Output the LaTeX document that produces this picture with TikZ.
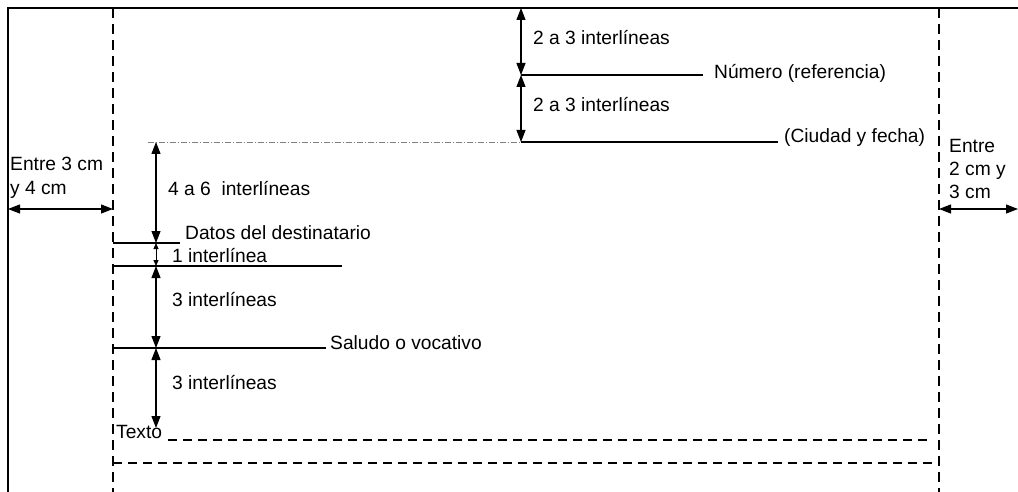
\documentclass[tikz,border=0pt]{standalone}
\usepackage{fontspec}
\setmainfont{Liberation Sans}
\usetikzlibrary{arrows.meta}
\begin{document}
\begin{tikzpicture}[x=1pt,y=-1pt,
  lbl/.style={anchor=base west,inner sep=0pt,font=\fontsize{19.2}{23}\selectfont},
  dim/.style={line width=1.1pt,{Triangle[length=12pt,width=9pt]}-{Triangle[length=12pt,width=9pt]}},
  rule/.style={line width=1.2pt},
  margin/.style={line width=1.2pt,dash pattern=on 10pt off 6pt},
  txtline/.style={line width=1.1pt,dash pattern=on 9pt off 6pt},
  dashdot/.style={line width=0.7pt,gray,dash pattern=on 6pt off 2pt on 1pt off 2pt}]
\useasboundingbox (0,0) rectangle (1018,492);
% frame
\draw[line width=1.5pt] (8,492) -- (8,8) -- (1018,8);
% margins
\coordinate (mlT) at (113,8); \coordinate (mlB) at (113,492);
\coordinate (mrT) at (939,8); \coordinate (mrB) at (939,492);
\draw[margin] (mlT) -- (mlB);
\draw[margin] (mrT) -- (mrB);
% top dimension
\coordinate (top) at (521,8);
\coordinate (num) at (521,75);
\coordinate (numE) at (703,75);
\coordinate (ciu) at (521,142);
\coordinate (ciuE) at (778,142);
\coordinate (dd) at (148,142);
\draw[rule] (num) -- (numE);
\draw[rule] (ciu) -- (ciuE);
\draw[dashdot] (dd) -- (ciu);
\draw[dim] (top) -- (num);
\draw[dim] (num) -- (ciu);
\node[lbl] (t1) at (533,45) {2 a 3 interlíneas};
\node[lbl] (t2) at (533,112) {2 a 3 interlíneas};
\node[lbl] (tn) at (714,79) {Número (referencia)};
\node[lbl] (tc) at (784,143) {(Ciudad y fecha)};
% left side
\coordinate (a0) at (156,142);
\coordinate (a1) at (156,243);
\coordinate (a2) at (156,266);
\coordinate (a3) at (156,348);
\coordinate (a4) at (156,428);
\coordinate (l1s) at (113,243); \coordinate (l1e) at (180,243);
\coordinate (l2s) at (113,266); \coordinate (l2e) at (342,266);
\coordinate (l3s) at (113,348); \coordinate (l3e) at (326,348);
\draw[rule] (l1s) -- (l1e);
\draw[rule] (l2s) -- (l2e);
\draw[rule] (l3s) -- (l3e);
\draw[dim] (a0) -- (a1);
\draw[line width=0.8pt,{Triangle[length=6pt,width=5pt]}-{Triangle[length=6pt,width=5pt]}] (a1) -- (a2);
\draw[dim] (a2) -- (a3);
\draw[dim] (a3) -- (a4);
\node[lbl] (t46) at (168,196) {4 a 6\ \ interlíneas};
\node[lbl] (tdd) at (185,240) {Datos del destinatario};
\node[lbl] (t1i) at (172,262) {1 interlínea};
\node[lbl] (t3a) at (172,306) {3 interlíneas};
\node[lbl] (tsv) at (330,349) {Saludo o vocativo};
\node[lbl] (t3b) at (172,389) {3 interlíneas};
\node[lbl] (ttx) at (116,438) {Texto};
% text lines
\coordinate (x1s) at (168,440); \coordinate (x1e) at (932,440);
\coordinate (x2s) at (113,463); \coordinate (x2e) at (939,463);
\draw[txtline] (x1s) -- (x1e);
\draw[txtline] (x2s) -- (x2e);
% margin dimensions
\coordinate (fl) at (8,209); \coordinate (ml) at (113,209);
\coordinate (mr) at (939,209); \coordinate (fr) at (1018,209);
\draw[dim] (fl) -- (ml);
\draw[dim] (mr) -- (fr);
\node[lbl] (el1) at (10,171) {Entre 3 cm};
\node[lbl] (el2) at (10,194) {y 4 cm};
\node[lbl] (er1) at (949,153) {Entre};
\node[lbl] (er2) at (949,176) {2 cm y};
\node[lbl] (er3) at (949,198) {3 cm};
\end{tikzpicture}
\end{document}
